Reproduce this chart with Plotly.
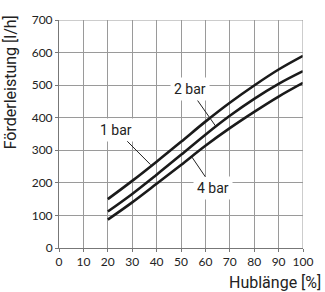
import plotly.graph_objects as go

hub = [20, 30, 40, 50, 60, 70, 80, 90, 100]
bar1 = [150, 206, 265, 326, 388, 446, 499, 548, 590]
bar2 = [112, 166, 225, 286, 348, 406, 458, 504, 543]
bar4 = [87, 140, 197, 255, 314, 368, 418, 465, 507]

labels = ["1 bar", "2 bar", "4 bar"]
# label centre (x, y) and point on curve the leader line goes to
label_pos = [(23.3, 363), (53.5, 488), (63.2, 183)]
leader_to = [(37.5, 256), (64.4, 372), (54.5, 279)]

x_ticks = list(range(0, 101, 10))
y_ticks = list(range(0, 701, 100))

tick_font = dict(family="Lato, Open Sans, sans-serif", size=12, color="#222")
title_font = dict(family="Liberation Sans Narrow, Roboto, Liberation Sans, sans-serif", size=16, color="#222")

fig = go.Figure()
for ys in (bar1, bar2, bar4):
    fig.add_trace(go.Scatter(x=hub, y=ys, mode="lines", line=dict(color="#1a1a1a", width=2.6, shape="spline"),
                             showlegend=False, hoverinfo="skip"))

for txt, (lx, ly), (px, py) in zip(labels, label_pos, leader_to):
    fig.add_annotation(x=px, y=py, ax=lx, ay=ly, axref="x", ayref="y", xref="x", yref="y",
                       text=txt, showarrow=True, arrowhead=0, arrowwidth=1, arrowcolor="#222",
                       bgcolor="white", borderpad=3,
                       font=dict(family="Liberation Sans Narrow, Roboto, Liberation Sans, sans-serif", size=14, color="#222"))

fig.add_annotation(text="Förderleistung [l/h]", xref="paper", yref="paper", x=-0.2, y=1.03,
                   xanchor="center", yanchor="top", textangle=-90, showarrow=False, font=title_font)
fig.add_annotation(text="Hublänge [%]", xref="paper", yref="paper", x=1.08, y=-0.1,
                   xanchor="right", yanchor="top", showarrow=False, font=title_font)

fig.update_xaxes(range=[0, 100], tickvals=x_ticks, showgrid=True, gridcolor="#9a9a9a", gridwidth=1,
                 showline=True, linecolor="#777", linewidth=1, ticks="outside", ticklen=3, tickcolor="#777",
                 tickfont=tick_font, zeroline=False)
fig.update_yaxes(range=[0, 700], tickvals=y_ticks, showgrid=True, gridcolor="#9a9a9a", gridwidth=1,
                 showline=True, linecolor="#777", linewidth=1, ticks="outside", ticklen=3, tickcolor="#777",
                 tickfont=tick_font, zeroline=False, mirror=False)

fig.add_shape(type="line", xref="x", yref="y", x0=0, x1=100, y0=700, y1=700, line=dict(color="#9a9a9a", width=1))
fig.add_shape(type="line", xref="x", yref="y", x0=100, x1=100, y0=0, y1=700, line=dict(color="#9a9a9a", width=1))

fig.update_layout(width=325, height=292, margin=dict(l=59, r=12, t=15, b=44),
                  plot_bgcolor="white", paper_bgcolor="white")

fig.write_html("out.html", config={"displayModeBar": False},
               post_script="document.body.style.margin='0';document.body.style.padding='0';")
